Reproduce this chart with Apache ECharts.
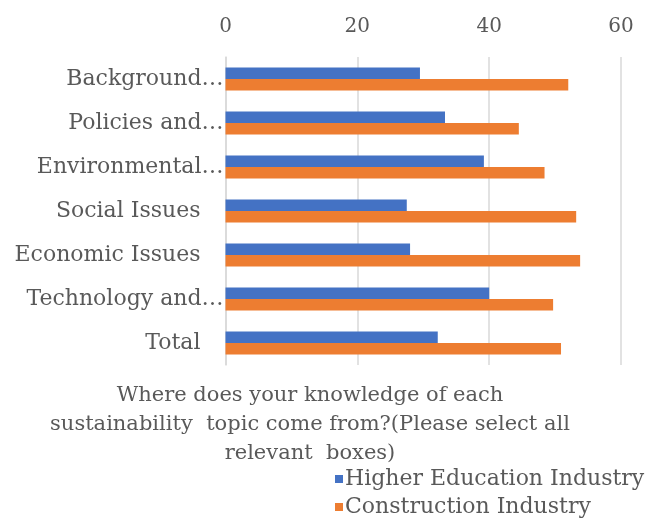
<!DOCTYPE html>
<html>
<head>
<meta charset="utf-8">
<script src="https://cdn.jsdelivr.net/npm/echarts@6/dist/echarts.min.js"></script>
<style>
  html, body { margin: 0; padding: 0; background: #ffffff; }
  #chart { width: 648px; height: 521px; }
</style>
</head>
<body>
<div id="chart"></div>
<script>
// Topic categories, top to bottom
const categories = [
  'Background…',
  'Policies and…',
  'Environmental…',
  'Social Issues',
  'Economic Issues',
  'Technology and…',
  'Total'
];

// Values per topic for each respondent group
const higherEducation = [29.5, 33.3, 39.2, 27.5, 28.0, 40.0, 32.2];
const construction = [52.0, 44.5, 48.4, 53.2, 53.8, 49.7, 50.9];

// Value axis ticks
const tickValues = [0, 20, 40, 60];

const seriesNames = ['Higher Education Industry', 'Construction Industry'];
const chartTitle = 'Where does your knowledge of each\nsustainability  topic come from?(Please select all\nrelevant  boxes)';

const FONT = 'DejaVu Serif';
const GREY_TEXT = '#595959';
const GRID_LINE = '#d9d9d9';

const chart = echarts.init(document.getElementById('chart'), null, { renderer: 'canvas' });

chart.setOption({
  backgroundColor: '#ffffff',
  animation: false,
  color: ['#4472C4', '#ED7D31'],
  grid: { left: 225.5, right: 27, top: 57, bottom: 156, containLabel: false },
  xAxis: {
    type: 'value',
    position: 'top',
    min: tickValues[0],
    max: tickValues[tickValues.length - 1],
    interval: tickValues[1] - tickValues[0],
    axisLine: { show: false },
    axisTick: { show: false },
    splitLine: { show: true, lineStyle: { color: GRID_LINE, width: 1.5 } },
    axisLabel: {
      fontFamily: FONT,
      fontSize: 20,
      color: GREY_TEXT,
      margin: 20
    }
  },
  yAxis: {
    type: 'category',
    inverse: true,
    data: categories,
    axisLine: { show: true, lineStyle: { color: GRID_LINE, width: 1.5 } },
    axisTick: { show: false },
    axisLabel: {
      fontFamily: FONT,
      fontSize: 22,
      color: GREY_TEXT,
      margin: 2,
      formatter: function (v) {
        return v.endsWith('…') ? '{e|' + v + '}' : '{p|' + v + '}';
      },
      rich: {
        e: { fontFamily: FONT, fontSize: 22, color: GREY_TEXT },
        p: { fontFamily: FONT, fontSize: 22, color: GREY_TEXT, padding: [0, 23, 0, 0] }
      }
    }
  },
  legend: {
    type: 'plain',
    orient: 'vertical',
    left: 335,
    top: 468,
    height: 80,
    width: 320,
    padding: 0,
    itemWidth: 8,
    itemHeight: 8,
    itemGap: 6,
    icon: 'rect',
    data: seriesNames,
    textStyle: { fontFamily: FONT, fontSize: 22, lineHeight: 22, color: GREY_TEXT, padding: [0, 0, 0, -3] }
  },
  graphic: [{
    type: 'text',
    x: 310,
    y: 381,
    style: {
      text: chartTitle,
      fontFamily: FONT,
      fontSize: 21,
      lineHeight: 29,
      fill: GREY_TEXT,
      textAlign: 'center',
      textVerticalAlign: 'top'
    }
  }],
  series: [
    {
      name: seriesNames[0],
      type: 'bar',
      data: higherEducation,
      barWidth: 11.5,
      barGap: '0%'
    },
    {
      name: seriesNames[1],
      type: 'bar',
      data: construction,
      barWidth: 11.5,
      barGap: '0%'
    }
  ]
});
</script>
</body>
</html>
